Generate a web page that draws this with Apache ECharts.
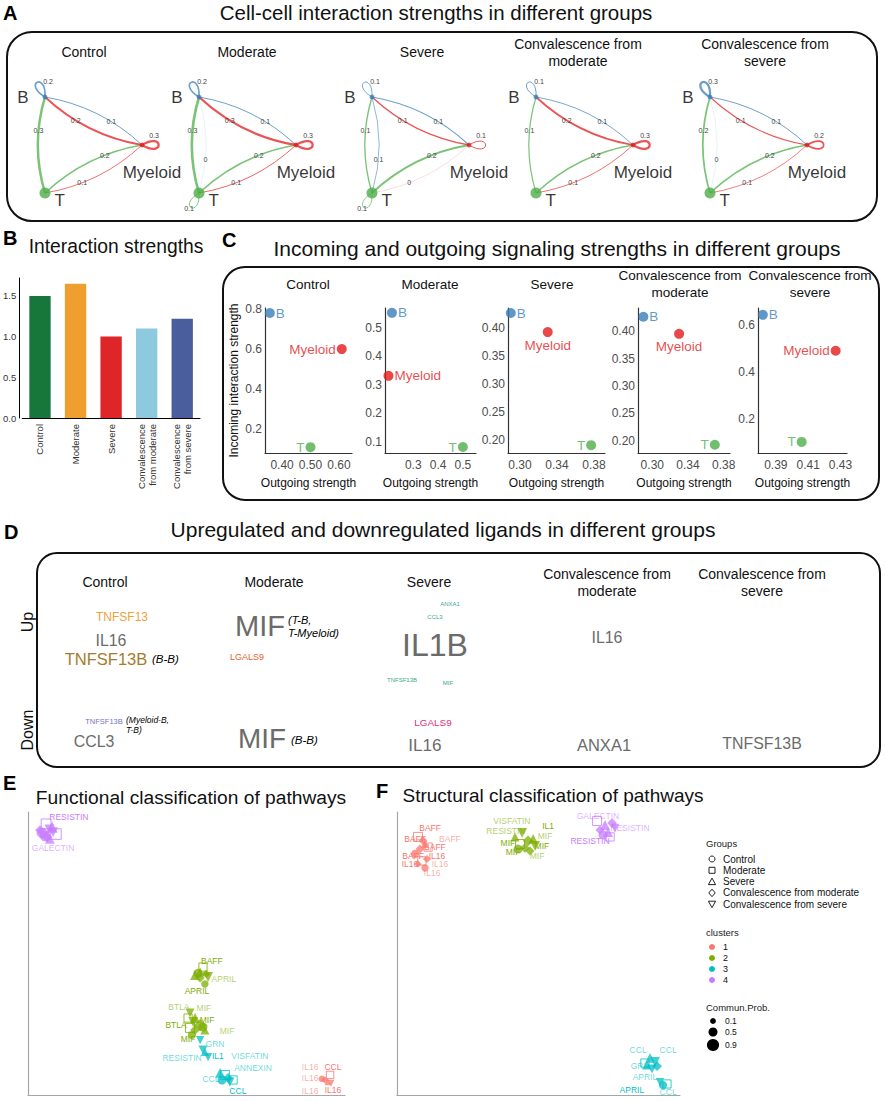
<!DOCTYPE html>
<html>
<head>
<meta charset="utf-8">
<title>Cell-cell communication in different groups</title>
<script src="https://cdn.jsdelivr.net/npm/echarts@6.0.0/dist/echarts.min.js"></script>
<style>
    html, body { margin: 0; padding: 0; background: #fff; }
    #main { width: 886px; height: 1101px; }
</style>
</head>
<body>
<div id="main"></div>
<script>
let FONT = '"Liberation Sans", Arial, Helvetica, sans-serif';

// 分组
let groups = ['Control', 'Moderate', 'Severe', 'Convalescence from moderate', 'Convalescence from severe'];
let groupTitles = ['Control', 'Moderate', 'Severe', 'Convalescence from\nmoderate', 'Convalescence from\nsevere'];
let cellTypes = ['B', 'Myeloid', 'T'];
let cellColors = ['#377EB8', '#E41A1C', '#4DAF4A'];

// A: 通讯网络 [来源细胞, 目标细胞, 强度]
let netEdges = [
    [[0, 0, 0.18], [1, 1, 0.27], [0, 1, 0.09], [1, 0, 0.21], [2, 0, 0.29], [2, 1, 0.17], [1, 2, 0.07]],
    [[0, 0, 0.17], [1, 1, 0.27], [0, 1, 0.09], [1, 0, 0.27], [2, 0, 0.31], [0, 2, 0.02], [2, 1, 0.17], [1, 2, 0.08], [2, 2, 0.08]],
    [[0, 0, 0.08], [1, 1, 0.09], [0, 1, 0.10], [1, 0, 0.14], [2, 0, 0.14], [0, 2, 0.06], [2, 1, 0.21], [1, 2, 0.04], [2, 2, 0.07]],
    [[0, 0, 0.09], [1, 1, 0.27], [0, 1, 0.08], [1, 0, 0.19], [2, 0, 0.12], [2, 1, 0.16], [1, 2, 0.07]],
    [[0, 0, 0.26], [1, 1, 0.18], [0, 1, 0.09], [1, 0, 0.10], [2, 0, 0.19], [0, 2, 0.02], [2, 1, 0.17], [1, 2, 0.06]]
];
// 细胞数（相对值）
let netCellSize = [0.12, 0.12, 1];

// B: 总互作强度
let barCategories = ['Control', 'Moderate', 'Severe', 'Convalescence\nfrom moderate', 'Convalescence\nfrom severe'];
let barValues = [1.50, 1.65, 1.00, 1.10, 1.22];
let barColors = ['#17773B', '#EE9F2D', '#DE2528', '#8DCAE0', '#4A5E9D'];

// C: 输出/输入信号强度 [B, Myeloid, T]
let outgoing = [
    [0.357, 0.610, 0.500],
    [0.214, 0.200, 0.500],
    [0.290, 0.330, 0.377],
    [0.290, 0.330, 0.370],
    [0.382, 0.427, 0.406]
];
let incoming = [
    [0.780, 0.600, 0.111],
    [0.553, 0.332, 0.082],
    [0.427, 0.393, 0.191],
    [0.426, 0.395, 0.193],
    [0.643, 0.490, 0.102]
];
let xTicks = [[0.40, 0.50, 0.60], [0.3, 0.4, 0.5], [0.30, 0.34, 0.38], [0.30, 0.34, 0.38], [0.39, 0.41, 0.43]];
let yTicks = [[0.2, 0.4, 0.6, 0.8], [0.1, 0.2, 0.3, 0.4, 0.5], [0.20, 0.25, 0.30, 0.35, 0.40], [0.20, 0.25, 0.30, 0.35, 0.40], [0.2, 0.4, 0.6]];
let xDigits = [2, 1, 2, 2, 2];
let yDigits = [1, 1, 2, 2, 1];

// D: 上调/下调配体 [分组, 配体, 相对权重]
let ligandsUp = [
    [0, 'TNFSF13', 0.20], [0, 'IL16', 0.33], [0, 'TNFSF13B', 0.35],
    [1, 'MIF', 0.77], [1, 'LGALS9', 0.10],
    [2, 'ANXA1', 0.0], [2, 'CCL3', 0.0], [2, 'IL1B', 0.87], [2, 'TNFSF13B', 0.0], [2, 'MIF', 0.0],
    [3, 'IL16', 0.33]
];
let ligandsDown = [
    [0, 'TNFSF13B', 0.05], [0, 'CCL3', 0.33],
    [1, 'MIF', 0.73],
    [2, 'LGALS9', 0.13], [2, 'IL16', 0.37],
    [3, 'ANXA1', 0.35],
    [4, 'TNFSF13B', 0.33]
];
// 配体对应的细胞对
let ligandNotes = [[0, 'up', '(B-B)'], [1, 'up', '(T-B,\nT-Myeloid)'], [0, 'down', '(Myeloid-B,\nT-B)'], [1, 'down', '(B-B)']];

// E/F: 通路嵌入 [x, y, 聚类, 分组, Commun.Prob.]
let clusterNames = ['1', '2', '3', '4'];
let clusterColors = ['#F8766D', '#7CAE00', '#00BFC4', '#C77CFF'];
let probLevels = [0.1, 0.5, 0.9];
let funcPoints = [
    [0.44, 9.26, 4, 0, 0.7], [0.57, 9.58, 4, 1, 0.6], [0.76, 9.47, 4, 2, 0.8], [0.60, 9.12, 4, 3, 0.7], [0.88, 9.22, 4, 1, 0.7],
    [0.69, 9.05, 4, 2, 0.6], [0.54, 9.15, 4, 0, 0.7], [0.79, 9.29, 4, 4, 0.6], [0.38, 9.36, 4, 3, 0.6], [0.66, 9.40, 4, 4, 0.5],
    [5.52, 4.52, 2, 1, 0.4], [5.27, 4.24, 2, 2, 0.6], [5.68, 4.17, 2, 4, 0.6], [5.43, 4.13, 2, 3, 0.5], [5.58, 3.92, 2, 0, 0.3],
    [5.43, 4.35, 2, 2, 0.5], [5.36, 4.30, 2, 0, 0.5], [5.62, 4.28, 2, 3, 0.4],
    [5.11, 2.90, 2, 4, 0.5], [5.05, 2.72, 2, 1, 0.4], [5.27, 2.72, 2, 2, 0.6], [5.43, 2.47, 2, 3, 0.9], [5.27, 2.30, 2, 3, 0.6],
    [5.11, 2.37, 2, 1, 0.5], [5.52, 2.40, 2, 0, 0.5], [5.21, 2.58, 2, 4, 0.6], [5.58, 2.30, 2, 2, 0.5], [5.17, 2.12, 2, 0, 0.4],
    [5.43, 1.94, 3, 4, 0.4], [5.52, 1.59, 3, 4, 0.5], [5.58, 1.52, 3, 2, 0.4], [5.68, 1.34, 3, 4, 0.4],
    [6.21, 0.71, 3, 1, 0.5], [6.06, 0.78, 3, 2, 0.6], [6.31, 0.60, 3, 3, 0.6], [6.37, 0.46, 3, 4, 0.5], [6.12, 0.53, 3, 0, 0.5], [6.47, 0.53, 3, 1, 0.4],
    [9.53, 0.71, 1, 1, 0.3], [9.37, 0.53, 1, 3, 0.3], [9.46, 0.46, 1, 2, 0.2], [9.27, 0.57, 1, 0, 0.2], [9.56, 0.42, 1, 4, 0.2]
];
// [x, y, 通路, 聚类, 是否为对照数据集]
let funcLabels = [
    [1.29, 9.82, 'RESISTIN', 4, 0], [0.79, 8.73, 'GALECTIN', 4, 1],
    [5.80, 4.73, 'BAFF', 2, 0], [6.18, 4.10, 'APRIL', 2, 1], [5.33, 3.67, 'APRIL', 2, 0],
    [4.76, 3.11, 'BTLA', 2, 1], [5.55, 3.07, 'MIF', 2, 1], [4.67, 2.47, 'BTLA', 2, 0], [5.65, 2.65, 'MIF', 2, 0],
    [6.28, 2.26, 'MIF', 2, 1], [5.05, 1.98, 'MIF', 2, 0],
    [5.90, 1.80, 'GRN', 3, 1], [4.86, 1.31, 'RESISTIN', 3, 1], [5.99, 1.38, 'IL1', 3, 0], [7.00, 1.38, 'VISFATIN', 3, 1],
    [7.10, 0.95, 'ANNEXIN', 3, 1], [5.77, 0.57, 'CCL', 3, 1], [6.62, 0.14, 'CCL', 3, 0],
    [8.90, 0.99, 'IL16', 1, 1], [9.62, 0.99, 'CCL', 1, 0], [8.90, 0.60, 'IL16', 1, 1], [8.90, 0.14, 'IL16', 1, 1], [9.62, 0.18, 'IL16', 1, 0]
];
let structPoints = [
    [0.74, 9.12, 1, 1, 0.5], [0.92, 8.98, 1, 3, 0.5], [1.10, 8.76, 1, 1, 0.4], [0.81, 8.69, 1, 3, 0.5], [0.99, 8.87, 1, 2, 0.4],
    [0.64, 8.52, 1, 0, 0.4], [1.06, 8.34, 1, 3, 0.4], [0.88, 8.27, 1, 1, 0.4], [0.74, 8.16, 1, 3, 0.3], [0.99, 8.02, 1, 0, 0.3],
    [4.17, 9.12, 2, 2, 0.5], [4.42, 9.26, 2, 4, 0.6], [4.63, 8.98, 2, 3, 0.7], [4.35, 8.87, 2, 1, 0.5], [4.81, 9.05, 2, 2, 0.6],
    [4.52, 8.73, 2, 3, 0.6], [4.28, 8.69, 2, 0, 0.5], [4.88, 8.80, 2, 4, 0.6], [4.70, 8.62, 2, 3, 0.5],
    [7.07, 9.68, 4, 1, 0.5], [7.35, 9.54, 4, 2, 0.6], [7.60, 9.61, 4, 3, 0.6], [7.17, 9.36, 4, 3, 0.5], [7.46, 9.29, 4, 2, 0.6],
    [7.70, 9.43, 4, 4, 0.5], [7.28, 9.19, 4, 0, 0.5], [7.53, 9.12, 4, 1, 0.4],
    [8.94, 1.31, 3, 2, 0.6], [9.12, 1.17, 3, 4, 0.6], [8.83, 1.06, 3, 2, 0.5], [9.19, 1.02, 3, 3, 0.6], [9.01, 0.92, 3, 4, 0.5],
    [8.76, 1.13, 3, 1, 0.4], [9.29, 0.46, 3, 4, 0.4], [9.40, 0.35, 3, 0, 0.4], [9.54, 0.39, 3, 1, 0.4]
];
let structLabels = [
    [1.17, 9.43, 'BAFF', 1, 0], [0.64, 9.05, 'BAFF', 1, 0], [1.87, 9.05, 'BAFF', 1, 1], [1.34, 8.76, 'BAFF', 1, 0],
    [0.57, 8.45, 'BAFF', 1, 0], [1.41, 8.45, 'IL16', 1, 0], [0.46, 8.16, 'IL16', 1, 0], [1.52, 8.16, 'IL16', 1, 1], [1.24, 7.84, 'IL16', 1, 1],
    [4.06, 9.68, 'VISFATIN', 2, 1], [5.34, 9.52, 'IL1', 2, 0], [3.85, 9.33, 'RESISTIN', 2, 1], [5.23, 9.16, 'MIF', 2, 1],
    [3.92, 8.90, 'MIF', 2, 0], [5.12, 8.80, 'MIF', 2, 0], [4.10, 8.59, 'MIF', 2, 0], [4.95, 8.44, 'MIF', 2, 1],
    [7.10, 9.86, 'GALECTIN', 4, 1], [8.23, 9.43, 'RESISTIN', 4, 1], [6.82, 8.98, 'RESISTIN', 4, 0],
    [8.52, 1.59, 'CCL', 3, 1], [9.58, 1.59, 'CCL', 3, 1], [8.59, 1.02, 'GRN', 3, 1], [8.76, 0.64, 'APRIL', 3, 1],
    [8.30, 0.18, 'APRIL', 3, 0], [9.58, 0.11, 'CCL', 3, 1]
];

// ---------- 版式 ----------
let netX = [45, 199, 372, 536, 710];
let netTitleX = [84, 247, 422, 578, 765];
let nodeXY = [[0, 1], [1, 0.5], [0, 0]];
let loopAngle = [-118, 0, 118];
let loopLabelOffset = [[3, -16], [12, -10], [-10, 15]];
let nodeLabel = [
    {position: 'left', distance: 14, offset: [0, 0]},
    {position: 'bottom', distance: 17, offset: [10, 0]},
    {position: 'right', distance: 4, offset: [0, 7]}
];
let cGrid = [[265, 87], [385, 91], [508, 97], [638, 92], [758, 89]];
let cTitleX = [308, 430, 552, 680, 810];
let cXRange = [[0.34, 0.646], [0.186, 0.553], [0.287, 0.392], [0.284, 0.387], [0.379, 0.434]];
let cYRange = [[0.082, 0.805], [0.061, 0.570], [0.177, 0.436], [0.178, 0.442], [0.055, 0.672]];
let myeloidLabelPos = ['left', 'right', 'bottom', 'bottom', 'left'];
let dColumnX = [105, 274, 429, 607, 762];
let dRowY = {up: 630, down: 735};
let upLayout = [[17, -13], [6, 10], [1, 29], [-14, -4], [-27, 27], [21, -26], [6, -13], [6, 15], [-27, 50], [19, 53], [0, 7]];
let upColors = ['#EFA13A', '#6B6B6B', '#A57B2C', '#6B6B6B', '#E8612C', '#3BA88C', '#3BA88C', '#6B6B6B', '#3BA88C', '#3BA88C', '#6B6B6B'];
let downLayout = [[-1, -14], [-11, 6], [-12, 3], [4, -13], [-4, 10], [-3, 10], [0, 8]];
let downColors = ['#7B73C0', '#6B6B6B', '#6B6B6B', '#E3307A', '#6B6B6B', '#6B6B6B', '#6B6B6B'];
let noteLayout = [[152, 659], [288, 626], [126, 725], [291, 740]];
let noteSize = [11.5, 11, 8.5, 11.5];
let groupSymbols = ['circle', 'rect', 'triangle', 'diamond', 'triangle'];
let groupRotate = [0, 0, 0, 0, 180];
let groupHollow = [false, true, false, false, false];

function probSize(p) {
    return 5 + p * 8;
}

function edgeLabel(w) {
    return String(Math.round(w * 10) / 10);
}

/**
 * 网络边：贝塞尔曲线 + 强度标签
 */
function renderEdge(params, api) {
    let s = api.value(0), t = api.value(1), w = api.value(2);
    let p1 = api.coord(nodeXY[s]);
    let p2 = api.coord(nodeXY[t]);
    let shape, lx, ly;
    if (s === t) {
        let a = loopAngle[s] * Math.PI / 180, len = 26, sp = 0.55;
        shape = {
            x1: p1[0], y1: p1[1], x2: p1[0], y2: p1[1],
            cpx1: p1[0] + len * Math.cos(a - sp), cpy1: p1[1] + len * Math.sin(a - sp),
            cpx2: p1[0] + len * Math.cos(a + sp), cpy2: p1[1] + len * Math.sin(a + sp)
        };
        lx = p1[0] + loopLabelOffset[s][0];
        ly = p1[1] + loopLabelOffset[s][1];
    } else {
        let dx = p2[0] - p1[0], dy = p2[1] - p1[1];
        let cx = (p1[0] + p2[0]) / 2 + 0.15 * dy;
        let cy = (p1[1] + p2[1]) / 2 - 0.15 * dx;
        shape = {x1: p1[0], y1: p1[1], x2: p2[0], y2: p2[1], cpx1: cx, cpy1: cy};
        let u = 0.65;
        lx = (1 - u) * (1 - u) * p1[0] + 2 * (1 - u) * u * cx + u * u * p2[0];
        ly = (1 - u) * (1 - u) * p1[1] + 2 * (1 - u) * u * cy + u * u * p2[1];
    }
    return {
        type: 'group',
        children: [{
            type: 'bezierCurve',
            shape: shape,
            style: {stroke: cellColors[s], fill: 'none', lineWidth: 0.3 + w * 7.5, opacity: w < 0.05 ? 0.25 : 0.75}
        }, {
            type: 'text', x: lx, y: ly,
            style: {
                text: edgeLabel(w), fontSize: 7, fontFamily: FONT, fill: '#444',
                align: 'center', verticalAlign: 'middle', textAlign: 'center', textVerticalAlign: 'middle'
            }
        }]
    };
}

function text(x, y, str, size, opt) {
    opt = opt || {};
    return {
        type: 'text', x: x, y: y, rotation: opt.rotation || 0, silent: true,
        style: {
            text: str, fontSize: size, fontFamily: FONT,
            fontWeight: opt.weight || 'normal', fontStyle: opt.italic ? 'italic' : 'normal',
            fill: opt.color || '#111', lineHeight: opt.lineHeight || Math.round(size * 1.25),
            align: opt.align || 'center', verticalAlign: 'middle',
            textAlign: opt.align || 'center', textVerticalAlign: 'middle'
        }
    };
}

function box(x, y, w, h, r) {
    return {type: 'rect', silent: true, shape: {x: x, y: y, width: w, height: h, r: r}, style: {fill: 'none', stroke: '#111', lineWidth: 2}};
}

function legendSymbol(g, cx, cy) {
    let st = {fill: 'none', stroke: '#222', lineWidth: 1};
    if (g === 0) return {type: 'circle', shape: {cx: cx, cy: cy, r: 3}, style: st};
    if (g === 1) return {type: 'rect', shape: {x: cx - 3, y: cy - 3, width: 6, height: 6}, style: st};
    if (g === 2) return {type: 'polygon', shape: {points: [[cx, cy - 3.5], [cx + 3.6, cy + 3], [cx - 3.6, cy + 3]]}, style: st};
    if (g === 3) return {type: 'polygon', shape: {points: [[cx, cy - 3.8], [cx + 3.2, cy], [cx, cy + 3.8], [cx - 3.2, cy]]}, style: st};
    return {type: 'polygon', shape: {points: [[cx - 3.6, cy - 3], [cx + 3.6, cy - 3], [cx, cy + 3.5]]}, style: st};
}

let grids = [], xAxes = [], yAxes = [], series = [], graphics = [];

// ---------- A ----------
for (let k = 0; k < groups.length; k++) {
    grids.push({left: netX[k], top: 97, width: 97, height: 96});
    xAxes.push({type: 'value', gridIndex: k, min: 0, max: 1, show: false});
    yAxes.push({type: 'value', gridIndex: k, min: 0, max: 1, show: false});
    series.push({
        type: 'custom', xAxisIndex: k, yAxisIndex: k, clip: false, silent: true, z: 2,
        renderItem: renderEdge,
        data: netEdges[k]
    });
    series.push({
        type: 'scatter', xAxisIndex: k, yAxisIndex: k, clip: false, silent: true, z: 3,
        data: cellTypes.map(function (c, i) {
            return {
                value: nodeXY[i],
                symbolSize: 4 + 7 * netCellSize[i],
                itemStyle: {color: cellColors[i]},
                label: {
                    show: true, formatter: c, fontSize: 17, color: '#000',
                    position: nodeLabel[i].position, distance: nodeLabel[i].distance, offset: nodeLabel[i].offset
                }
            };
        })
    });
    graphics.push(text(netTitleX[k], 52, groupTitles[k], 14, {lineHeight: 17}));
}

// ---------- B ----------
grids.push({left: 21, top: 278, width: 179, height: 140});
xAxes.push({
    type: 'category', gridIndex: 5, data: barCategories,
    axisLine: {lineStyle: {color: '#000', width: 1}}, axisTick: {show: false},
    axisLabel: {rotate: 90, interval: 0, fontSize: 9.5, color: '#333', margin: 6, lineHeight: 11}
});
yAxes.push({
    type: 'value', gridIndex: 5, min: 0, max: 1.72, offset: 3,
    axisLine: {show: true, lineStyle: {color: '#000', width: 1}}, axisTick: {show: false}, splitLine: {show: false},
    axisLabel: {customValues: [0, 0.5, 1, 1.5], formatter: function (v) { return v.toFixed(1); }, fontSize: 9.5, color: '#333', margin: 3}
});
series.push({
    type: 'bar', xAxisIndex: 5, yAxisIndex: 5, barWidth: '60%', silent: true,
    data: barValues.map(function (v, i) {
        return {value: v, itemStyle: {color: barColors[i]}};
    })
});

// ---------- C ----------
for (let k = 0; k < groups.length; k++) {
    let gi = 6 + k;
    grids.push({left: cGrid[k][0], top: 308, width: cGrid[k][1], height: 145});
    xAxes.push({
        type: 'value', gridIndex: gi, min: cXRange[k][0], max: cXRange[k][1],
        axisLine: {show: true, onZero: false, lineStyle: {color: '#333', width: 1.2}},
        axisTick: {show: false}, splitLine: {show: false},
        axisLabel: {
            customValues: xTicks[k], fontSize: 12, color: '#4D4D4D', margin: 6,
            formatter: (function (d) { return function (v) { return v.toFixed(d); }; })(xDigits[k])
        },
        name: 'Outgoing strength', nameLocation: 'middle', nameGap: 24,
        nameTextStyle: {fontSize: 12, color: '#111'}
    });
    yAxes.push({
        type: 'value', gridIndex: gi, min: cYRange[k][0], max: cYRange[k][1],
        axisLine: {show: true, onZero: false, lineStyle: {color: '#333', width: 1.2}},
        axisTick: {show: false}, splitLine: {show: false},
        axisLabel: {
            customValues: yTicks[k], fontSize: 12, color: '#4D4D4D', margin: 3,
            formatter: (function (d) { return function (v) { return v.toFixed(d); }; })(yDigits[k])
        },
        name: k === 0 ? 'Incoming interaction strength' : '', nameLocation: 'middle', nameGap: 25,
        nameTextStyle: {fontSize: 12, color: '#111'}
    });
    series.push({
        type: 'scatter', xAxisIndex: gi, yAxisIndex: gi, symbolSize: 10, clip: false, silent: true,
        data: cellTypes.map(function (c, i) {
            return {
                value: [outgoing[k][i], incoming[k][i]],
                itemStyle: {color: cellColors[i]},
                label: {
                    show: true, formatter: c, color: cellColors[i], fontSize: 13.5, distance: 1,
                    position: i === 0 ? 'right' : (i === 2 ? 'left' : myeloidLabelPos[k])
                }
            };
        })
    });
    graphics.push(text(cTitleX[k], 284, groupTitles[k], 13.5, {lineHeight: 17}));
}

// ---------- E / F ----------
function embedding(gi, left, width, points, labels, labelSize) {
    grids.push({left: left, top: 812, width: width, height: 283});
    let axisStyle = {
        type: 'value', gridIndex: gi, min: 0, max: 10,
        axisLine: {show: true, onZero: false, lineStyle: {color: '#A6A6A6', width: 1.2}},
        axisTick: {show: false}, axisLabel: {show: false}, splitLine: {show: false}
    };
    xAxes.push(axisStyle);
    yAxes.push(Object.assign({}, axisStyle));
    for (let g = 0; g < groups.length; g++) {
        series.push({
            type: 'scatter', name: groups[g], xAxisIndex: gi, yAxisIndex: gi, clip: false, silent: true,
            symbol: groupSymbols[g], symbolRotate: groupRotate[g],
            data: points.filter(function (p) { return p[3] === g; }).map(function (p) {
                let c = clusterColors[p[2] - 1];
                return {
                    value: [p[0], p[1]],
                    symbolSize: probSize(p[4]),
                    itemStyle: groupHollow[g]
                        ? {color: 'rgba(255,255,255,0)', borderColor: c, borderWidth: 1}
                        : {color: c, opacity: 0.75}
                };
            })
        });
    }
    series.push({
        type: 'scatter', xAxisIndex: gi, yAxisIndex: gi, clip: false, silent: true, symbolSize: 0, z: 5,
        data: labels.map(function (l) {
            return {
                value: [l[0], l[1]],
                label: {
                    show: true, position: 'inside', formatter: l[2], fontSize: labelSize,
                    color: clusterColors[l[3] - 1], opacity: l[4] ? 0.6 : 1
                }
            };
        })
    });
}
embedding(11, 28, 317, funcPoints, funcLabels, 8.5);
embedding(12, 397, 283, structPoints, structLabels, 8.5);

// ---------- 框、标题 ----------
graphics.push(box(7, 32, 870, 189, 25));
graphics.push(box(223, 267, 656, 233, 22));
graphics.push(box(37, 553, 843, 214, 20));

graphics.push(text(3, 13, 'A', 20, {weight: 'bold', align: 'left', color: '#000'}));
graphics.push(text(436, 12, 'Cell-cell interaction strengths in different groups', 20.5));
graphics.push(text(3, 238, 'B', 20, {weight: 'bold', align: 'left', color: '#000'}));
graphics.push(text(116, 246, 'Interaction strengths', 19.3));
graphics.push(text(222, 240, 'C', 20, {weight: 'bold', align: 'left', color: '#000'}));
graphics.push(text(557, 248, 'Incoming and outgoing signaling strengths in different groups', 21));
graphics.push(text(4, 532, 'D', 20, {weight: 'bold', align: 'left', color: '#000'}));
graphics.push(text(443, 529, 'Upregulated and downregulated ligands in different groups', 21));
graphics.push(text(3, 783, 'E', 20, {weight: 'bold', align: 'left', color: '#000'}));
graphics.push(text(191, 797, 'Functional classification of pathways', 19.2));
graphics.push(text(376, 791, 'F', 20, {weight: 'bold', align: 'left', color: '#000'}));
graphics.push(text(553, 795, 'Structural classification of pathways', 19));

// ---------- D 词云 ----------
graphics.push(text(27, 622, 'Up', 16, {rotation: Math.PI / 2}));
graphics.push(text(27, 730, 'Down', 16, {rotation: Math.PI / 2}));
groupTitles.forEach(function (t, k) {
    graphics.push(text(dColumnX[k], 582, t, 14, {lineHeight: 17}));
});
ligandsUp.forEach(function (d, i) {
    graphics.push(text(dColumnX[d[0]] + upLayout[i][0], dRowY.up + upLayout[i][1], d[1], 6 + 30 * d[2], {color: upColors[i]}));
});
ligandsDown.forEach(function (d, i) {
    graphics.push(text(dColumnX[d[0]] + downLayout[i][0], dRowY.down + downLayout[i][1], d[1], 6 + 30 * d[2], {color: downColors[i]}));
});
ligandNotes.forEach(function (n, i) {
    graphics.push(text(noteLayout[i][0], noteLayout[i][1], n[2], noteSize[i], {italic: true, align: 'left', color: '#000', lineHeight: Math.round(noteSize[i] * 1.15)}));
});

// ---------- F 图例 ----------
let legendX = 706;
graphics.push(text(legendX, 843, 'Groups', 9.5, {align: 'left', color: '#222'}));
groups.forEach(function (g, i) {
    let y = 859 + i * 11.3;
    graphics.push(legendSymbol(i, legendX + 6, y));
    graphics.push(text(legendX + 17, y, g, 10, {align: 'left', color: '#111'}));
});
graphics.push(text(legendX, 932, 'clusters', 9.5, {align: 'left', color: '#222'}));
clusterNames.forEach(function (c, i) {
    let y = 947 + i * 11;
    graphics.push({type: 'circle', silent: true, shape: {cx: legendX + 6, cy: y, r: 3}, style: {fill: clusterColors[i]}});
    graphics.push(text(legendX + 17, y, c, 9, {align: 'left', color: '#111'}));
});
graphics.push(text(legendX, 1007, 'Commun.Prob.', 9.5, {align: 'left', color: '#222'}));
probLevels.forEach(function (p, i) {
    let y = [1021, 1032, 1045][i];
    graphics.push({type: 'circle', silent: true, shape: {cx: legendX + 7, cy: y, r: probSize(p) / 2}, style: {fill: '#000'}});
    graphics.push(text(legendX + 19, y, String(p), 8.5, {align: 'left', color: '#111'}));
});

let chart = echarts.init(document.getElementById('main'), null, {renderer: 'svg'});
chart.setOption({
    animation: false,
    backgroundColor: '#fff',
    textStyle: {fontFamily: FONT},
    grid: grids,
    xAxis: xAxes,
    yAxis: yAxes,
    series: series,
    graphic: {elements: graphics}
});
</script>
</body>
</html>
